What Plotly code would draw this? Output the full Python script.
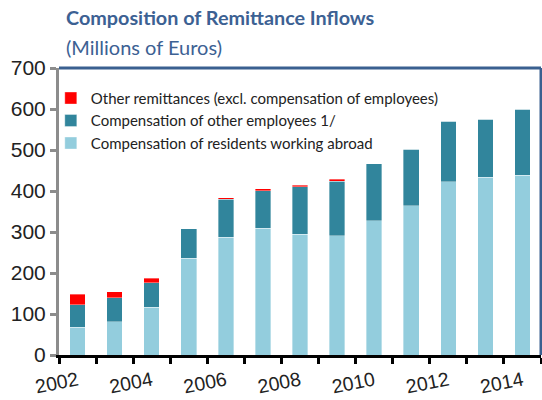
import plotly.graph_objects as go

years = list(range(2002, 2015))
residents_abroad = [68, 81, 117, 236, 287, 309, 295, 291, 328, 364, 423, 433, 438]
other_employees = [54, 59, 59, 72, 93, 92, 115, 133, 138, 138, 147, 142, 161]
other_remittances = [26, 14, 11, 0, 4, 5, 4, 5, 0, 0, 0, 0, 0]
tick_years = [2002, 2004, 2006, 2008, 2010, 2012, 2014]

names = [
    "Compensation of residents working abroad",
    "Compensation of other employees 1/",
    "Other remittances (excl. compensation of employees)",
]
colors = ["#93CDDD", "#31859C", "#FF0000"]
series = [residents_abroad, other_employees, other_remittances]

fig = go.Figure()
for n, c, s in zip(names, colors, series):
    fig.add_trace(go.Bar(x=years, y=s, name=n, width=0.42,
                         marker=dict(color=c, line=dict(width=0.6, color="rgba(255,255,255,0.6)"))))

fig.update_layout(
    barmode="stack",
    width=542, height=400,
    margin=dict(l=59, r=1, t=68, b=45, autoexpand=False),
    paper_bgcolor="white", plot_bgcolor="white",
    font=dict(family="Lato, Liberation Sans, sans-serif", color="#222222"),
    legend=dict(x=-0.017, y=0.952, xanchor="left", yanchor="top",
                traceorder="reversed", bgcolor="rgba(0,0,0,0)",
                font=dict(size=15, family="Lato, sans-serif", color="#222222"),
                itemwidth=30, tracegroupgap=0),
    showlegend=True,
)
fig.update_yaxes(range=[0, 700], dtick=100, showgrid=False, zeroline=False,
                 automargin=False,
                 showline=True, linecolor="#8C8C8C", linewidth=3,
                 ticks="outside", ticklen=6, tickwidth=3, tickcolor="#8C8C8C",
                 tickfont=dict(size=21, family="Liberation Sans, sans-serif", color="#222222"))
fig.update_xaxes(range=[2001.5, 2014.5], tickvals=tick_years,
                 ticktext=[str(y) for y in tick_years], tickangle=-11,
                 automargin=False, ticklabelstandoff=4,
                 ticks="outside", ticklen=0, showgrid=False, zeroline=False,
                 showline=True, linecolor="black", linewidth=3,
                 tickfont=dict(size=19.5, family="Liberation Sans, sans-serif", color="#222222"),
                 minor=dict(tickvals=[y + 0.5 for y in range(2001, 2015)],
                            ticks="outside", ticklen=6, tickwidth=3, tickcolor="black"))

frame = "#3A6090"
fig.add_shape(type="line", xref="paper", yref="paper", x0=0, x1=1, y0=1, y1=1,
              line=dict(color=frame, width=3))
fig.add_shape(type="line", xref="paper", yref="paper", x0=1, x1=1, y0=0, y1=1,
              line=dict(color=frame, width=3))

fig.add_annotation(text="<b>Composition of Remittance Inflows</b>", xref="paper", yref="paper",
                   x=0.01, y=1, yshift=51, xanchor="left", yanchor="middle", showarrow=False,
                   font=dict(size=19.8, family="Lato, sans-serif", color="#3C6193"))
fig.add_annotation(text="(Millions of Euros)", xref="paper", yref="paper",
                   x=0.01, y=1, yshift=21, xanchor="left", yanchor="middle", showarrow=False,
                   font=dict(size=20, family="Lato, sans-serif", color="#3C6193"))

fig.write_html("out.html", config={"displayModeBar": False},
               post_script="document.body.style.margin='0';document.body.style.overflow='hidden';")
